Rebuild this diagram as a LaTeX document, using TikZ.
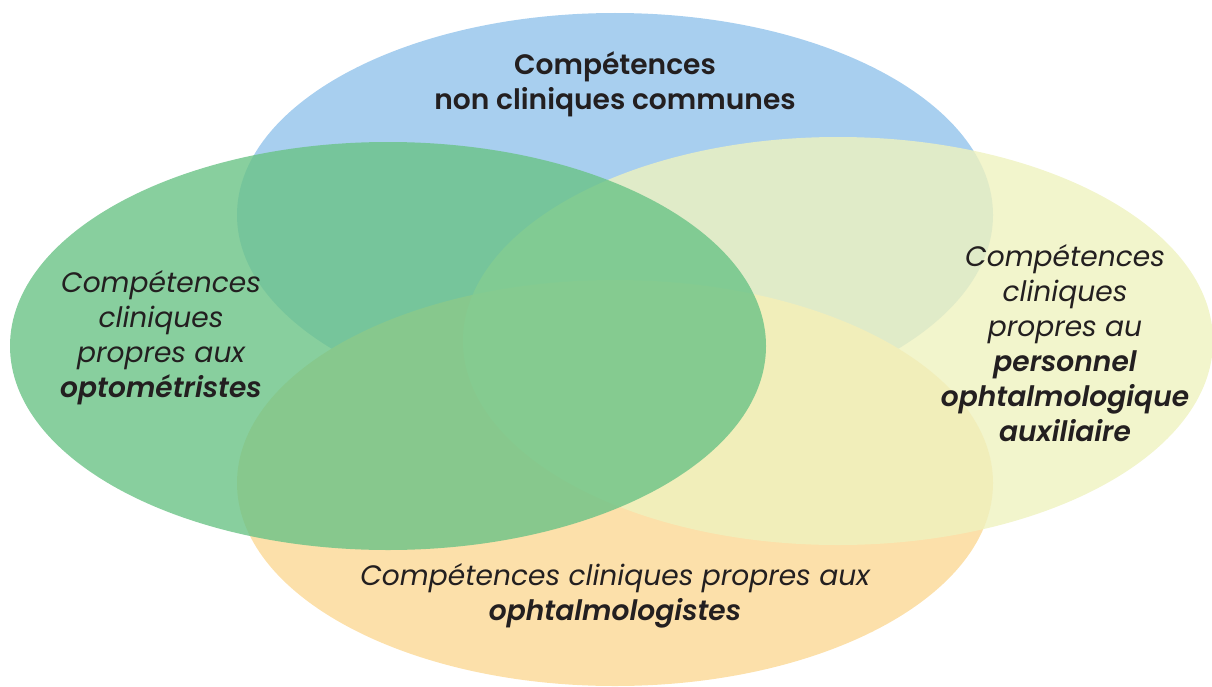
\documentclass[tikz,border=0pt]{standalone}
\usepackage{fontspec}
\setmainfont{Poppins}[BoldFont=* SemiBold, BoldItalicFont=* SemiBold Italic]
\usepackage{tikz}

\definecolor{skyblue}{RGB}{168,207,239}
\definecolor{peach}{RGB}{252,224,170}
\definecolor{paleyellow}{RGB}{239,242,191}
\definecolor{leafgreen}{RGB}{106,195,134}
\definecolor{ink}{RGB}{35,31,32}

\begin{document}
\begin{tikzpicture}
        [x=0.02cm, y=-0.02cm,
         blob/.style={fill opacity=0.8},
         skill/.style={align=center, text=ink, font=\fontsize{16}{19.9}\selectfont}]
        \useasboundingbox (0,0) rectangle (1212,686);

        % the four groups of competences
        \fill[skyblue] (615,215) ellipse [x radius=378, y radius=202];
        \fill[peach] (615,483) ellipse [x radius=378, y radius=203];
        \fill[paleyellow,blob] (838,341) ellipse [x radius=375, y radius=204];
        \fill[leafgreen,blob] (388,346) ellipse [x radius=378, y radius=204];

        \node[skill] (common) at (615,84) {\textbf{Compétences}\\\textbf{non cliniques communes}};
        \node[skill] (optom) at (161,338) {\itshape Compétences\\\itshape cliniques\\\itshape propres aux\\\bfseries\itshape optométristes};
        \node[skill] (aux) at (1065,343) {\itshape Compétences\\\itshape cliniques\\\itshape propres au\\\bfseries\itshape personnel\\\bfseries\itshape ophtalmologique\\\bfseries\itshape auxiliaire};
        \node[skill] (ophtal) at (615,596) {\itshape Compétences cliniques propres aux\\\bfseries\itshape ophtalmologistes};
       \end{tikzpicture}
\end{document}
